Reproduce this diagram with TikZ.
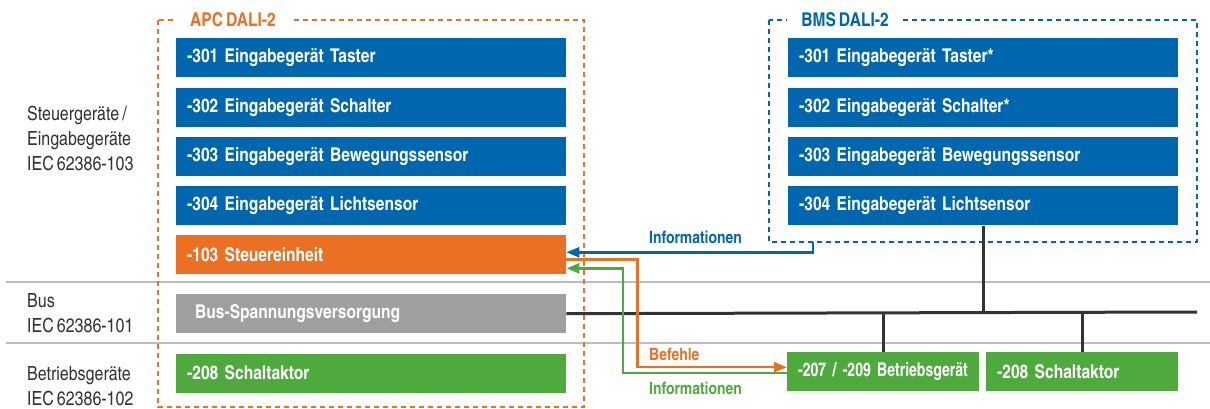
\documentclass[tikz,border=0pt]{standalone}
\usepackage{fontspec}
\setmainfont{texgyreheroscn}[Extension=.otf, UprightFont=*-regular, BoldFont=*-bold, WordSpace=0.7]
\usepackage{xcolor}
\usepackage{tikz}
\usetikzlibrary{arrows.meta,positioning}
\definecolor{daliblue}{HTML}{0066AE}
\definecolor{daliorange}{HTML}{EC7023}
\definecolor{daligray}{HTML}{A09F9F}
\definecolor{daligreen}{HTML}{4FAA3D}
\definecolor{sepgray}{HTML}{BDBDBD}
\definecolor{labelgray}{HTML}{333333}
\tikzset{
  box/.style={rectangle, anchor=north west, minimum height=39pt, inner xsep=11pt, inner ysep=0pt, text width=368pt, align=left, text=white, font=\bfseries\fontsize{19}{19}\selectfont},
  bluebox/.style={box, fill=daliblue},
  smallbox/.style={box, fill=daligreen, text width=170pt},
  frame_o/.style={draw=daliorange, line width=2pt, dash pattern=on 5pt off 4pt},
  frame_b/.style={draw=daliblue, line width=2pt, dash pattern=on 5pt off 4pt},
  frametitle/.style={fill=white, inner xsep=14pt, font=\bfseries\fontsize{19}{19}\selectfont},
  rowlabel/.style={anchor=west, inner sep=0pt, align=left, text=labelgray, font=\fontsize{19.5}{25}\selectfont},
  flowlabel/.style={anchor=west, inner sep=0pt, font=\bfseries\fontsize{17}{17}\selectfont},
  busline/.style={draw=labelgray, line width=3pt},
  flow/.style={line width=2.5pt, -{Triangle[length=13pt,width=10pt]}}
}
\begin{document}
\begin{tikzpicture}[x=1pt,y=-1pt]
	\useasboundingbox[fill=white] (0,0) rectangle (1210,409);
	% row separators
	\draw[sepgray, line width=1.5pt] (6,282) -- (1210,282);
	\draw[sepgray, line width=1.5pt] (6,343) -- (1210,343);
	\node[rowlabel] (lsteuer) at (27,138) {Steuergeräte /\\Eingabegeräte\\IEC 62386-103};
	\node[rowlabel] (lbus) at (27,313) {Bus\\IEC 62386-101};
	\node[rowlabel] (lbetrieb) at (27,386) {Betriebsgeräte\\IEC 62386-102};
	% APC DALI-2
	\draw[frame_o] (158,20) rectangle (584,407);
	\node[frametitle, text=daliorange] (apc) at (233,20) {APC DALI-2};
	\node[bluebox] (a301) at (176,38) {-301 Eingabegerät Taster};
	\node[bluebox, below=10pt of a301] (a302) {-302 Eingabegerät Schalter};
	\node[bluebox, below=10pt of a302] (a303) {-303 Eingabegerät Bewegungssensor};
	\node[bluebox, below=10pt of a303] (a304) {-304 Eingabegerät Lichtsensor};
	\node[box, fill=daliorange, below=9pt of a304] (steuer) {-103 Steuereinheit};
	\node[box, fill=daligray, below=20pt of steuer] (bus) {\hspace*{8pt}Bus-Spannungsversorgung};
	\node[box, fill=daligreen, below=20pt of bus] (a208) {-208 Schaltaktor};
	% BMS DALI-2
	\draw[frame_b] (769,20) rectangle (1197,242);
	\node[frametitle, text=daliblue] (bms) at (845,20) {BMS DALI-2};
	\node[bluebox] (b301) at (788,38) {-301 Eingabegerät Taster*};
	\node[bluebox, below=10pt of b301] (b302) {-302 Eingabegerät Schalter*};
	\node[bluebox, below=10pt of b302] (b303) {-303 Eingabegerät Bewegungssensor};
	\node[bluebox, below=10pt of b303] (b304) {-304 Eingabegerät Lichtsensor};
	\node[smallbox] (b207) at (787,352) {\addfontfeature{FakeStretch=0.9}\mbox{-207 / -209 Betriebsgerät}};
	\node[smallbox] (b208) at (986,352) {-208 Schaltaktor};
	% bus
	\coordinate (busend) at (1197,312);
	\coordinate (bmsout) at (813,242);
	\draw[busline] (bus.east) -- (busend);
	\draw[busline] (b304.south) -- (b304.south |- busend);
	\draw[busline] (b207.north) -- (b207.north |- busend);
	\draw[busline] (b208.north) -- (b208.north |- busend);
	% flows
	\draw[flow, daliblue] (bmsout) |- ([yshift=2pt]steuer.east);
	\draw[flow, daliorange] ([yshift=-5pt]steuer.east) -- ++(71,0) |- ([yshift=4.5pt]b207.west);
	\draw[flow, daligreen] ([yshift=-1.5pt]b207.west) -- ++(-164,0) |- ([yshift=-14pt]steuer.east);
	\node[flowlabel, text=daliblue] (infob) at (649,237) {Informationen};
	\node[flowlabel, text=daliorange] (befehle) at (649,354) {Befehle};
	\node[flowlabel, text=daligreen] (infog) at (649,388) {Informationen};
\end{tikzpicture}
\end{document}
